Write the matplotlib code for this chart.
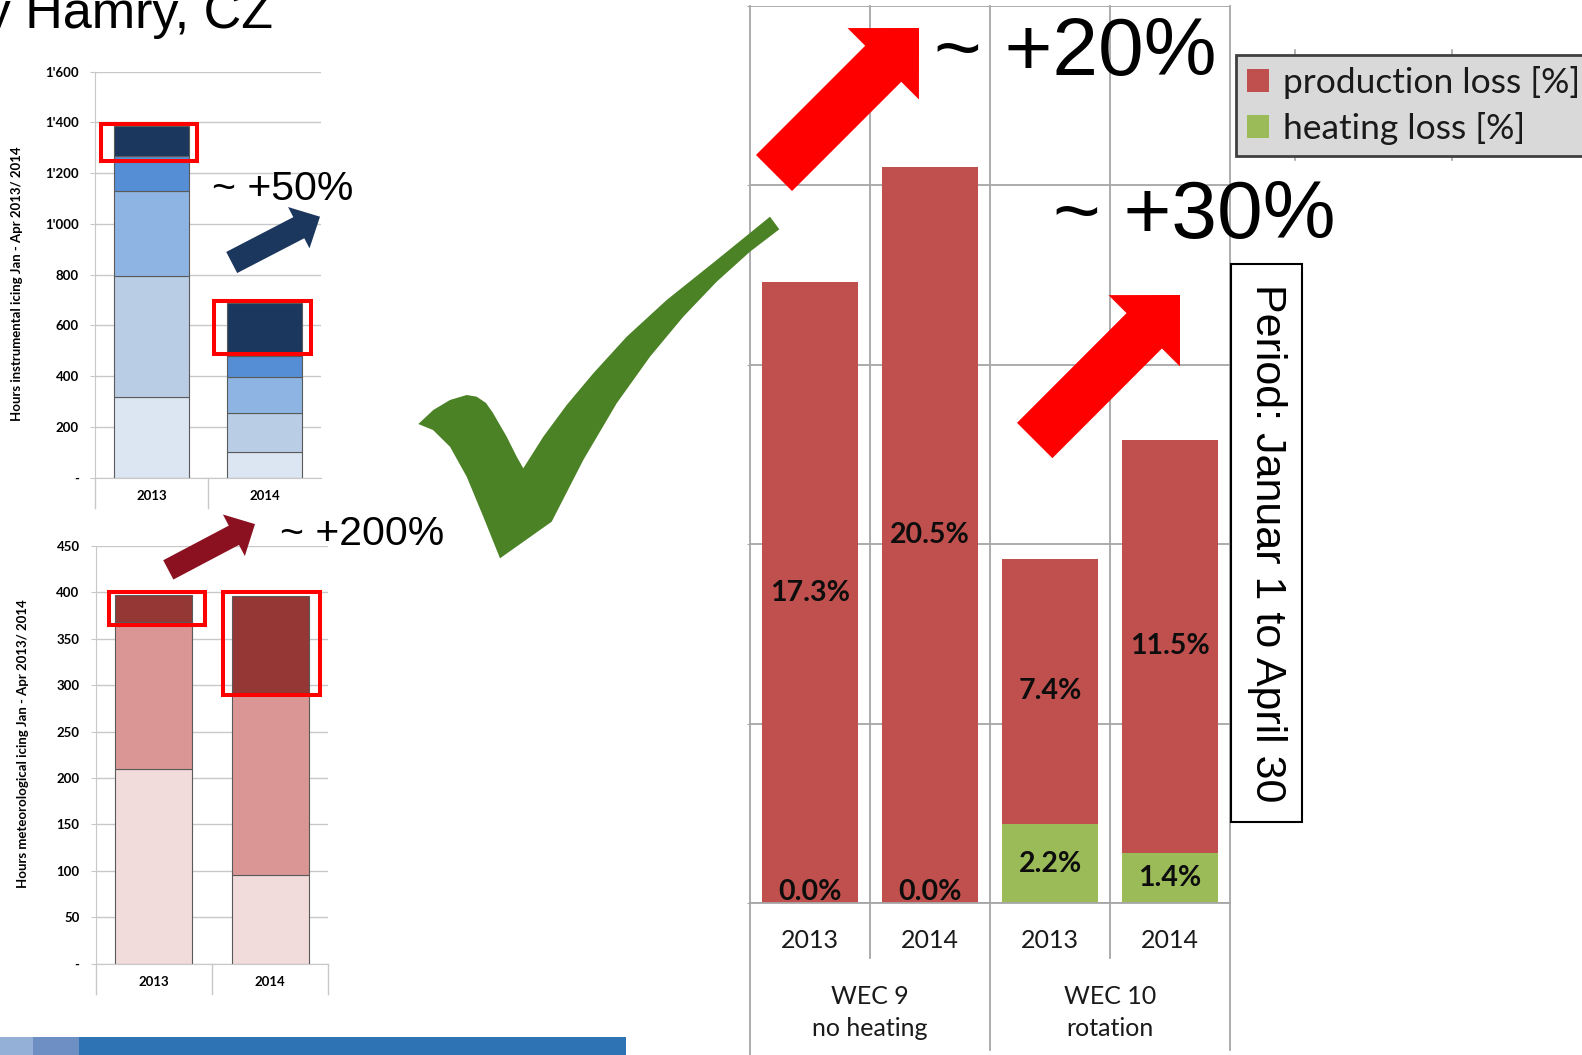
import numpy as np
import matplotlib
matplotlib.use('Agg')
import matplotlib.pyplot as plt
from matplotlib.patches import FancyArrow, Polygon, Rectangle
from matplotlib.ticker import FuncFormatter, MultipleLocator

W, H = 1582, 1055

# instrumental icing hours, stacked classes bottom -> top
years = ['2013', '2014']
instr_classes = [[317, 103], [479, 153], [332, 141], [138, 83], [121, 208]]
instr_colors = ['#dce6f2', '#b9cde5', '#8eb4e3', '#558ed5', '#1c375e']

# meteorological icing hours, stacked classes bottom -> top
meteo_classes = [[210, 96], [158, 194], [29, 106]]
meteo_colors = ['#f2dcdb', '#d99694', '#953735']

# turbine losses in %
turbine_years = ['2013', '2014', '2013', '2014']
turbines = ['WEC 9\nno heating', 'WEC 10\nrotation']
heating_loss = [0.0, 0.0, 2.2, 1.4]
production_loss = [17.3, 20.5, 7.4, 11.5]

# highlight frames around the top class, one per bar
# (left, right offset from bar centre, y0, y1 in data units)
instr_marks = [(-0.447, 0.406, 1249, 1393), (-0.444, 0.414, 487, 696)]
meteo_marks = [(-0.389, 0.437, 365, 400), (-0.406, 0.426, 290, 400)]

plt.rcParams['font.family'] = ['Lato', 'DejaVu Sans']
plt.rcParams['text.color'] = '#1a1a1a'


def px_box(x0, y0, x1, y1):
    return [x0 / W, 1 - y1 / H, (x1 - x0) / W, (y1 - y0) / H]


def hours_fmt(v, pos):
    return '-' if v == 0 else f'{v:,.0f}'.replace(',', "'")


fig = plt.figure(figsize=(W / 100, H / 100), dpi=100)
fig.patch.set_facecolor('white')


def stacked_hours(rect, classes, colors, ymax, step, ylabel, label_xy,
                  dividers, marks):
    ax = fig.add_axes(rect)
    x = np.arange(len(years))
    bottom = np.zeros(len(years))
    for vals, c in zip(classes, colors):
        ax.bar(x, vals, 0.66, bottom=bottom, color=c, edgecolor='#5a5a5a',
               linewidth=0.8, zorder=2)
        bottom += np.array(vals)
    ax.set_xlim(-0.5, len(years) - 0.5)
    ax.set_ylim(0, ymax)
    ax.yaxis.set_major_locator(MultipleLocator(step))
    ax.yaxis.set_major_formatter(FuncFormatter(hours_fmt))
    ax.grid(axis='y', color='#c8c8c8', lw=1.0, zorder=0)
    ax.set_axisbelow(True)
    for s in ['top', 'right']:
        ax.spines[s].set_visible(False)
    for s in ['left', 'bottom']:
        ax.spines[s].set_color('#c8c8c8')
    ax.tick_params(axis='y', length=3.6, color='#c8c8c8', labelsize=9.5, pad=8)
    ax.tick_params(axis='x', length=0, labelsize=9.5, pad=9)
    ax.set_xticks(x, years)
    for lbl in ax.get_xticklabels() + ax.get_yticklabels():
        lbl.set_fontweight('bold')
    ax.set_ylabel(ylabel, fontsize=9.5, fontweight='bold')
    ax.yaxis.set_label_coords(*label_xy)
    depth = 30 / ax.bbox.height
    for d in dividers:
        ax.plot([d, d], [0, -depth], transform=ax.get_xaxis_transform(),
                color='#c8c8c8', lw=1.0, clip_on=False)
    for i, (l, r, y0, y1) in enumerate(marks):
        ax.add_patch(Rectangle((x[i] + l, y0), r - l, y1 - y0, fill=False,
                               edgecolor='#ff0000', lw=2.9, clip_on=False,
                               zorder=5))
    return ax


stacked_hours(px_box(95, 71.7, 321, 477.7), instr_classes, instr_colors,
              1600, 200, 'Hours instrumental icing Jan - Apr 2013/ 2014',
              (-0.32, 0.477), [-0.5, 0.5], instr_marks)
stacked_hours(px_box(95.7, 546, 328.3, 963.7), meteo_classes, meteo_colors,
              450, 50, 'Hours meteorological icing Jan - Apr 2013/ 2014',
              (-0.285, 0.528), [-0.5, 0.5, 1.5], meteo_marks)

# production / heating loss chart
axr = fig.add_axes(px_box(750, 6, 1230, 903))
xr = np.arange(len(turbine_years))
b_heat = axr.bar(xr, heating_loss, 0.8, color='#9bbb59', zorder=2,
                 label='heating loss [%]')
b_prod = axr.bar(xr, production_loss, 0.8, bottom=heating_loss,
                 color='#c0504d', zorder=2, label='production loss [%]')
axr.set_xlim(-0.5, len(turbine_years) - 0.5)
axr.set_ylim(0, 25)
axr.yaxis.set_major_locator(MultipleLocator(5))
axr.grid(axis='y', color='#a6a6a6', lw=1.3, zorder=0)
for s in axr.spines.values():
    s.set_visible(False)
axr.tick_params(axis='y', length=2, color='#a6a6a6', labelleft=False)
axr.tick_params(axis='x', bottom=False, labelbottom=False)
axr.axhline(0, color='#a6a6a6', lw=1.3, zorder=3, clip_on=False)

hr = axr.bbox.height
xt = axr.get_xaxis_transform()
edges = np.arange(-0.5, len(turbine_years), 1.0)
for i, e in enumerate(edges):
    axr.axvline(e, color='#a6a6a6', lw=1.3, zorder=1, clip_on=False)
    depth = 55 if i % 2 else (152 if i == 0 else 147)
    axr.plot([e, e], [0, -depth / hr], transform=xt, color='#a6a6a6',
             lw=1.3, clip_on=False)

for i, yr in enumerate(turbine_years):
    axr.text(i, -37 / hr, yr, transform=xt, ha='center', va='center',
             fontsize=18)
for i, name in enumerate(turbines):
    axr.text(2 * i + 0.5, -109.5 / hr, name, transform=xt, ha='center',
             va='center', fontsize=18, linespacing=1.45)


def pct_labels(bars, values, bottoms):
    for rect, v, b in zip(bars, values, bottoms):
        cx = rect.get_x() + rect.get_width() / 2
        if v == 0:
            axr.annotate(f'{v:.1f}%', (cx, b), xytext=(0, 3),
                         textcoords='offset pixels', ha='center',
                         va='baseline', fontsize=20.5, fontweight='bold',
                         color='#0d0d0d', zorder=4)
        else:
            axr.text(cx, b + v / 2, f'{v:.1f}%', ha='center', va='center',
                     fontsize=20.5, fontweight='bold', color='#0d0d0d',
                     zorder=4)


pct_labels(b_heat, heating_loss, [0] * len(heating_loss))
pct_labels(b_prod, production_loss, heating_loss)

leg = fig.legend(handles=[b_prod, b_heat], loc='upper left',
                 bbox_to_anchor=(1236 / W, 1 - 55 / H), frameon=True,
                 fancybox=False, fontsize=25.5, handlelength=0.62,
                 handleheight=0.62, handletextpad=0.4, labelspacing=0.38,
                 borderpad=0.3, borderaxespad=0)
leg.get_frame().set_facecolor('#d9d9d9')
leg.get_frame().set_edgecolor('#404040')
leg.get_frame().set_linewidth(2)
leg.get_frame().set_alpha(1)

# slide overlay in pixel units: arrows, check mark, notes
ov = fig.add_axes([0, 0, 1, 1], zorder=3)
ov.set_xlim(0, W)
ov.set_ylim(H, 0)
ov.axis('off')

ov.text(273, 28, 'Kryštofovy Hamry, CZ', ha='right', va='baseline',
        fontsize=37.5, family='Liberation Sans', color='black')

for gx in [1295, 1452]:
    ov.plot([gx, gx], [50, 160], color='#a6a6a6', lw=1.2)


def block_arrow(tail, tip, width, head_w, head_l, color):
    ov.add_patch(FancyArrow(tail[0], tail[1], tip[0] - tail[0],
                            tip[1] - tail[1], width=width, head_width=head_w,
                            head_length=head_l, length_includes_head=True,
                            color=color, lw=0))


block_arrow((774, 173), (919, 28), 51, 101, 50.6, '#ff0000')
block_arrow((1034.7, 440.5), (1180, 295), 50, 101, 50.6, '#ff0000')
block_arrow((231.7, 262.5), (320, 216.7), 23.8, 46.6, 23.9, '#1c375e')
block_arrow((168.3, 569.9), (255, 524.1), 21.8, 47, 23.9, '#8b1120')

check = [(418.3, 424), (433.3, 410), (450, 400), (466.7, 395),
         (476.7, 396.7), (486, 403), (493, 413), (506.7, 436.7),
         (516.7, 456.7), (523.3, 468.3), (543.3, 436.7), (566.7, 405),
         (593.3, 373.3), (626.7, 336.7), (666.7, 300), (716.7, 260),
         (770, 216.7), (779.3, 229.3), (750, 251.7), (716.7, 281.7),
         (683.3, 316.7), (650, 356.7), (616.7, 403.3), (583.3, 460),
         (551.7, 521.7), (500, 558.3), (483.3, 516.7), (466.7, 476.7),
         (450, 446.7), (433, 430)]
ov.add_patch(Polygon(check, closed=True, color='#4a8225', lw=0))

ov.text(934, 75, '~ +20%', ha='left', va='baseline', fontsize=59,
        family='Liberation Sans', color='black')
ov.text(1053, 238, '~ +30%', ha='left', va='baseline', fontsize=59,
        family='Liberation Sans', color='black')
ov.text(212, 200, '~ +50%', ha='left', va='baseline', fontsize=29.5,
        family='Liberation Sans', color='black')
ov.text(280, 545, '~ +200%', ha='left', va='baseline', fontsize=29.5,
        family='Liberation Sans', color='black')

ov.add_patch(Rectangle((1231, 264), 71, 558, facecolor='white',
                       edgecolor='black', lw=1.5))
ov.text(1267, 543, 'Period: Januar 1 to April 30', rotation=270,
        ha='center', va='center', fontsize=31, family='Liberation Sans',
        color='black')

# footer band
for x0, x1, c in [(0, 33, '#95b0d6'), (33, 79, '#6e8fc4'), (79, 626, '#2e74b5')]:
    ov.add_patch(Rectangle((x0, 1037), x1 - x0, 18, color=c, lw=0))

fig.savefig('out.png', dpi=100)
